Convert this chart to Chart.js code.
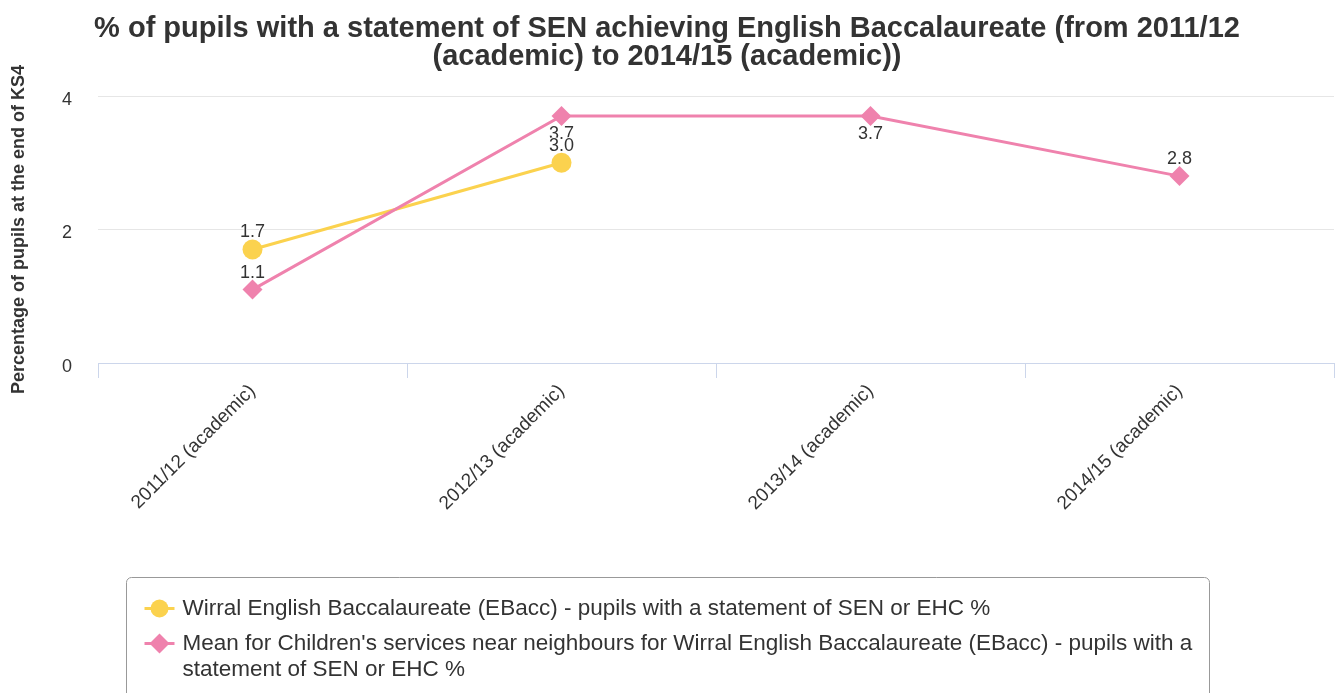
<!DOCTYPE html>
<html>
<head>
<meta charset="utf-8">
<script src="https://cdn.jsdelivr.net/npm/chart.js@4/dist/chart.umd.min.js"></script>
<style>
html, body { margin: 0; padding: 0; background: #fff; }
#wrap { width: 1335px; height: 693px; position: relative; }
</style>
</head>
<body>
<div id="wrap"><canvas id="senChart" width="1335" height="693"></canvas></div>
<script>
const categories = ['2011/12 (academic)', '2012/13 (academic)', '2013/14 (academic)', '2014/15 (academic)'];
const wirralValues = [1.7, 3.0, null, null];
const neighbourValues = [1.1, 3.7, 3.7, 2.8];
const yTicks = [0, 2, 4];
const seriesNames = [
    'Wirral English Baccalaureate (EBacc) - pupils with a statement of SEN or EHC %',
    "Mean for Children's services near neighbours for Wirral English Baccalaureate (EBacc) - pupils with a statement of SEN or EHC %"
];
const titleLines = [
    '% of pupils with a statement of SEN achieving English Baccalaureate (from 2011/12',
    '(academic) to 2014/15 (academic))'
];
const yTitle = 'Percentage of pupils at the end of KS4';

const FONT = "'Liberation Sans', Arial, sans-serif";
const TEXT = '#333333';
const YELLOW = '#fbd24e';
const PINK = '#ef82ad';

Chart.defaults.font.family = FONT;
Chart.defaults.color = TEXT;

// etiquetas de valor encima (o debajo) de cada punto
const pointLabels = {
    id: 'pointLabels',
    afterDatasetsDraw(chart) {
        const { ctx, chartArea } = chart;
        ctx.save();
        ctx.font = '18px ' + FONT;
        ctx.textAlign = 'center';
        ctx.textBaseline = 'middle';
        ctx.lineJoin = 'round';
        for (let i = chart.data.datasets.length - 1; i >= 0; i--) {
            const ds = chart.data.datasets[i];
            const meta = chart.getDatasetMeta(i);
            meta.data.forEach((pt, j) => {
                const v = ds.data[j];
                if (v === null || v === undefined) return;
                const text = v.toFixed(1);
                let y = pt.y - 17;
                if (y - 9 < chartArea.top) y = pt.y + 18;
                ctx.lineWidth = 2;
                ctx.strokeStyle = '#ffffff';
                ctx.strokeText(text, pt.x, y);
                ctx.fillStyle = TEXT;
                ctx.fillText(text, pt.x, y);
            });
        }
        ctx.restore();
    }
};

// leyenda con marco redondeado, como la original
const boxLegend = {
    id: 'boxLegend',
    afterDraw(chart) {
        const { ctx } = chart;
        const boxW = 1083;
        const left = Math.round((chart.width - boxW) / 2) + 0.5;
        const top = chart.chartArea.bottom + 214.5;
        const bottom = chart.height + 20;
        const r = 5;
        ctx.save();
        ctx.strokeStyle = '#999999';
        ctx.lineWidth = 1;
        ctx.beginPath();
        ctx.moveTo(left + r, top);
        ctx.lineTo(left + boxW - r, top);
        ctx.arcTo(left + boxW, top, left + boxW, top + r, r);
        ctx.lineTo(left + boxW, bottom);
        ctx.lineTo(left, bottom);
        ctx.lineTo(left, top + r);
        ctx.arcTo(left, top, left + r, top, r);
        ctx.stroke();

        ctx.font = '22.5px ' + FONT;
        ctx.textBaseline = 'middle';
        ctx.textAlign = 'left';
        const textX = left + 56;
        const maxW = 1040;
        let y = top + 31;
        chart.data.datasets.forEach((ds) => {
            // símbolo: línea + marcador
            ctx.strokeStyle = ds.borderColor;
            ctx.lineWidth = 3;
            ctx.beginPath();
            ctx.moveTo(left + 18, y);
            ctx.lineTo(left + 48, y);
            ctx.stroke();
            ctx.fillStyle = ds.borderColor;
            ctx.beginPath();
            const mx = left + 33;
            if (ds.pointStyle === 'rectRot') {
                ctx.moveTo(mx, y - 10);
                ctx.lineTo(mx + 10, y);
                ctx.lineTo(mx, y + 10);
                ctx.lineTo(mx - 10, y);
                ctx.closePath();
            } else {
                ctx.arc(mx, y, 9, 0, Math.PI * 2);
            }
            ctx.fill();

            // texto con salto de línea
            const words = ds.label.split(' ');
            const lines = [];
            let line = '';
            words.forEach(w => {
                const test = line ? line + ' ' + w : w;
                if (ctx.measureText(test).width > maxW && line) {
                    lines.push(line);
                    line = w;
                } else {
                    line = test;
                }
            });
            lines.push(line);
            ctx.fillStyle = TEXT;
            lines.forEach((l, k) => ctx.fillText(l, textX, y + k * 26));
            y += lines.length * 26 + 9;
        });
        ctx.restore();
    }
};

new Chart(document.getElementById('senChart'), {
    type: 'line',
    data: {
        labels: categories,
        datasets: [
            {
                label: seriesNames[0],
                data: wirralValues,
                borderColor: YELLOW,
                backgroundColor: YELLOW,
                borderWidth: 3,
                pointStyle: 'circle',
                pointRadius: 10,
                pointBorderWidth: 0,
                pointHoverRadius: 10,
                order: 1,
                tension: 0,
                fill: false
            },
            {
                label: seriesNames[1],
                data: neighbourValues,
                borderColor: PINK,
                backgroundColor: PINK,
                borderWidth: 3,
                pointStyle: 'rectRot',
                pointRadius: 10,
                pointBorderWidth: 0,
                pointHoverRadius: 10,
                order: 0,
                tension: 0,
                fill: false
            }
        ]
    },
    options: {
        responsive: false,
        devicePixelRatio: 1,
        animation: false,
        layout: { autoPadding: false, padding: { left: 0, right: 1, top: 0, bottom: 150 } },
        plugins: {
            legend: { display: false },
            tooltip: { enabled: false },
            title: {
                display: true,
                text: titleLines,
                color: TEXT,
                font: { size: 29, weight: 'bold', lineHeight: '28px' },
                padding: { top: 15, bottom: 25 }
            }
        },
        scales: {
            x: {
                offset: true,
                grid: {
                    offset: true,
                    drawOnChartArea: false,
                    drawTicks: true,
                    tickLength: 15,
                    color: '#ccd6eb'
                },
                border: { display: true, color: '#ccd6eb', width: 1 },
                ticks: {
                    autoSkip: false,
                    minRotation: 45,
                    maxRotation: 45,
                    padding: 2,
                    color: TEXT,
                    font: { size: 19 }
                },
                afterFit(scale) {
                    scale.height = 180;
                    scale.paddingLeft = 0;
                    scale.paddingRight = 0;
                }
            },
            y: {
                min: 0,
                max: 4,
                afterBuildTicks(scale) { scale.ticks = yTicks.map(v => ({ value: v })); },
                grid: {
                    drawTicks: false,
                    color: c => (c.tick && c.tick.value === 0 ? '#ccd6eb' : '#e6e6e6')
                },
                border: { display: false },
                ticks: {
                    padding: 26,
                    labelOffset: 4,
                    color: TEXT,
                    font: { size: 18 }
                },
                title: {
                    display: true,
                    text: yTitle,
                    color: TEXT,
                    font: { size: 18, weight: 'bold' },
                    padding: { top: 8, bottom: 4 }
                },
                afterFit(scale) { scale.width = 98; }
            }
        }
    },
    plugins: [pointLabels, boxLegend]
});
</script>
</body>
</html>
